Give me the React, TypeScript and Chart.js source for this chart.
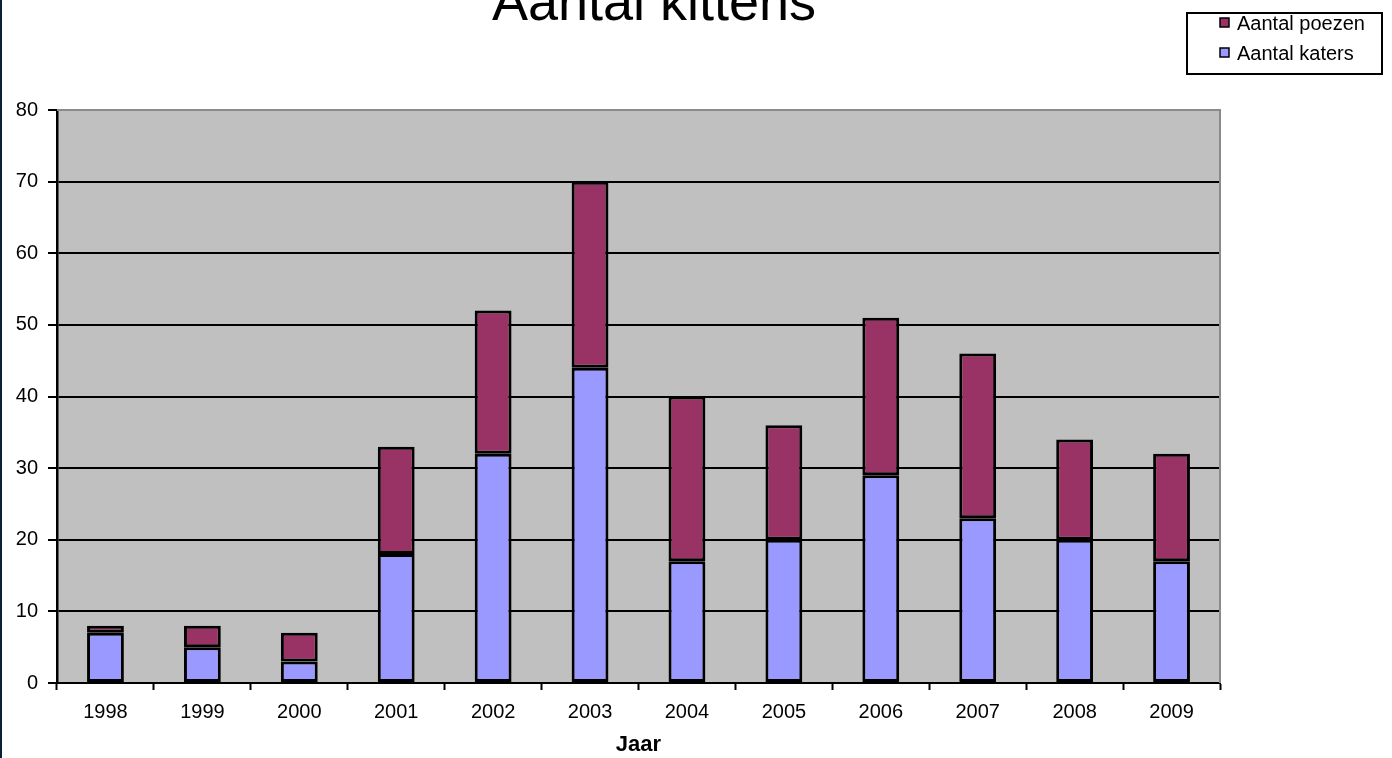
import React, { useEffect, useRef } from "react";
import { Chart, registerables } from "chart.js";

Chart.register(...registerables);

const years = ["1998", "1999", "2000", "2001", "2002", "2003", "2004", "2005", "2006", "2007", "2008", "2009"];
const katers = [7, 5, 3, 18, 32, 44, 17, 20, 29, 23, 20, 17];
const poezen = [1, 3, 4, 15, 20, 26, 23, 16, 22, 23, 14, 15];
const yTicks = [0, 10, 20, 30, 40, 50, 60, 70, 80];

const titleText = "Aantal kittens";
const xTitle = "Jaar";
const labelKaters = "Aantal katers";
const labelPoezen = "Aantal poezen";

const BLUE = "#9999FF";
const MAROON = "#993366";
const FONT = "'Liberation Sans', Arial, sans-serif";

const decor = {
  id: "decor",
  beforeDraw(chart: any) {
    const { ctx, chartArea: a } = chart;
    ctx.save();
    ctx.fillStyle = "#ffffff";
    ctx.fillRect(0, 0, chart.width, chart.height);
    ctx.fillStyle = "#C0C0C0";
    ctx.fillRect(a.left, a.top, a.right - a.left, a.bottom - a.top);
    ctx.restore();
  },
  afterDraw(chart: any) {
    const { ctx, chartArea: a } = chart;
    ctx.save();
    ctx.strokeStyle = "#8a8a8a";
    ctx.lineWidth = 2;
    ctx.beginPath();
    ctx.moveTo(a.left, a.top);
    ctx.lineTo(a.right, a.top);
    ctx.lineTo(a.right, a.bottom);
    ctx.stroke();
    ctx.fillStyle = "#0b1f3a";
    ctx.fillRect(0, 0, 2, chart.height);
    ctx.fillStyle = "#000";
    ctx.font = `54px ${FONT}`;
    ctx.textAlign = "center";
    ctx.textBaseline = "alphabetic";
    ctx.fillText(titleText, 654, 20);
    ctx.strokeStyle = "#000";
    ctx.lineWidth = 2;
    ctx.strokeRect(1187, 13, 195, 61);
    const items = [
      { label: labelPoezen, color: MAROON, y: 30 },
      { label: labelKaters, color: BLUE, y: 60 },
    ];
    ctx.font = `20px ${FONT}`;
    ctx.textAlign = "left";
    for (const it of items) {
      ctx.fillStyle = it.color;
      ctx.fillRect(1220, it.y - 12, 9, 9);
      ctx.lineWidth = 1.5;
      ctx.strokeRect(1220, it.y - 12, 9, 9);
      ctx.fillStyle = "#000";
      ctx.fillText(it.label, 1237, it.y);
    }
    ctx.restore();
  },
};

export default function App() {
  const ref = useRef<HTMLCanvasElement>(null);
  useEffect(() => {
    document.body.style.margin = "0";
    const chart = new Chart(ref.current as HTMLCanvasElement, {
      type: "bar",
      data: {
        labels: years,
        datasets: [
          {
            label: labelKaters,
            data: katers,
            backgroundColor: BLUE,
            borderColor: "#000",
            borderWidth: 3,
            borderSkipped: false,
          },
          {
            label: labelPoezen,
            data: poezen,
            backgroundColor: MAROON,
            borderColor: "#000",
            borderWidth: 3,
            borderSkipped: false,
          },
        ],
      },
      options: {
        animation: false,
        responsive: false,
        devicePixelRatio: 1,
        layout: { padding: { top: 110, right: 172, left: 0, bottom: 0 } },
        datasets: { bar: { barPercentage: 0.38, categoryPercentage: 1 } },
        plugins: {
          legend: { display: false },
          title: { display: false },
          tooltip: { enabled: false },
        },
        scales: {
          x: {
            stacked: true,
            afterFit: (s: any) => { s.height = 75; },
            grid: {
              offset: true,
              drawOnChartArea: false,
              drawTicks: true,
              tickLength: 7,
              tickColor: "#000",
              tickWidth: 2,
            },
            border: { color: "#000", width: 2 },
            ticks: {
              color: "#000",
              font: { family: FONT, size: 20 },
              padding: 10,
              maxRotation: 0,
            },
            title: {
              display: true,
              text: xTitle,
              color: "#000",
              font: { family: FONT, size: 22, weight: "bold" },
              padding: { top: 2, bottom: 0 },
            },
          },
          y: {
            stacked: true,
            min: 0,
            max: 80,
            afterFit: (s: any) => { s.width = 57; },
            afterBuildTicks: (s: any) => { s.ticks = yTicks.map((v) => ({ value: v })); },
            grid: {
              color: "#000",
              lineWidth: 2,
              drawTicks: true,
              tickLength: 9,
              tickColor: "#000",
              tickWidth: 2,
            },
            border: { color: "#000", width: 2.5 },
            ticks: {
              color: "#000",
              font: { family: FONT, size: 20 },
              padding: 10,
            },
          },
        },
      },
      plugins: [decor],
    });
    return () => chart.destroy();
  }, []);
  return <canvas ref={ref} width={1392} height={758} style={{ display: "block" }} />;
}
